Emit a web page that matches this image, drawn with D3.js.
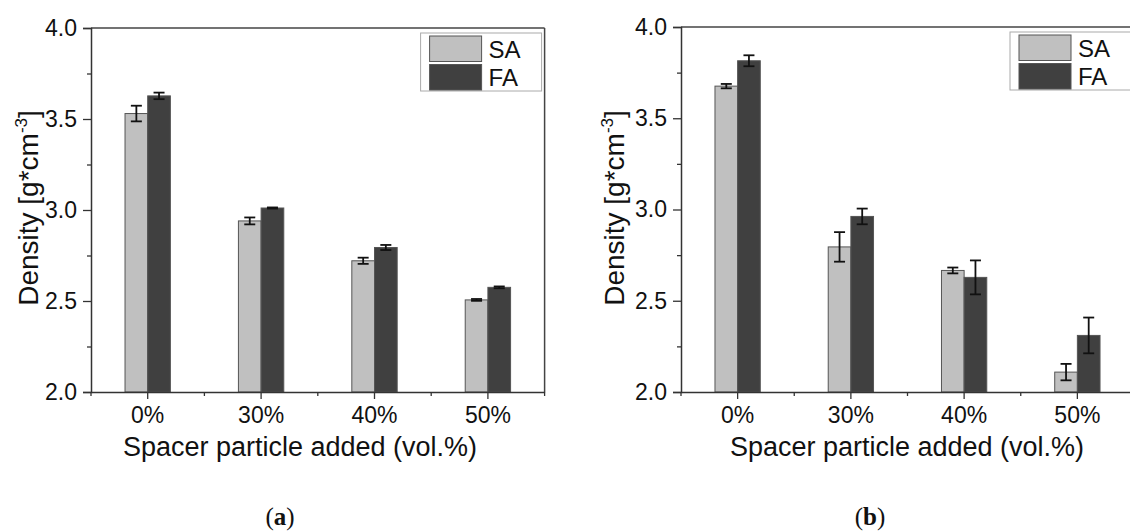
<!DOCTYPE html>
<html>
<head>
<meta charset="utf-8">
<script src="https://cdn.jsdelivr.net/npm/d3@7"></script>
<style>
  body { margin: 0; background: #fff; }
  svg text { font-family: "Liberation Sans", Arial, sans-serif; fill: #111; }
</style>
</head>
<body>
<div id="chart"></div>
<script>
// data
let categories = ["0%", "30%", "40%", "50%"]
let seriesNames = ["SA", "FA"]
let yTicks = [2.0, 2.5, 3.0, 3.5, 4.0]
let yMinor = [2.25, 2.75, 3.25, 3.75]

// panel (a)
let saA = [3.53, 2.94, 2.721, 2.506]
let saErrA = [0.043, 0.019, 0.017, 0.005]
let faA = [3.627, 3.011, 2.794, 2.575]
let faErrA = [0.018, 0.003, 0.014, 0.005]

// panel (b)
let saB = [3.676, 2.795, 2.666, 2.109]
let saErrB = [0.012, 0.081, 0.016, 0.045]
let faB = [3.815, 2.962, 2.628, 2.31]
let faErrB = [0.03, 0.043, 0.093, 0.098]

let colors = ["#c0c0c0", "#404040"]

let svg = d3.select("#chart").append("svg")
    .attr("width", 1130)
    .attr("height", 532);

function drawPanel(p) {
    let g = svg.append("g").attr("transform", "translate(" + p.left + "," + p.top + ")");

    let yS = d3.scaleLinear().domain([2.0, 4.0]).range([p.height, 0]);
    let xS = d3.scaleBand().domain(categories).range([0, p.width]).padding(0);
    let groupW = xS.bandwidth() * 0.4;
    let xInner = d3.scaleBand().domain(seriesNames).range([-groupW / 2, groupW / 2]);

    let rows = [];
    categories.forEach(function (c, i) {
        rows.push({cat: c, s: "SA", v: p.sa[i], e: p.saErr[i], k: 0});
        rows.push({cat: c, s: "FA", v: p.fa[i], e: p.faErr[i], k: 1});
    });

    // bars
    g.selectAll("rect.bar").data(rows).enter().append("rect")
        .attr("class", "bar")
        .attr("x", function (d) { return xS(d.cat) + xS.bandwidth() / 2 + xInner(d.s); })
        .attr("width", xInner.bandwidth())
        .attr("y", function (d) { return yS(d.v); })
        .attr("height", function (d) { return p.height - yS(d.v); })
        .attr("fill", function (d) { return colors[d.k]; })
        .attr("stroke", "#555")
        .attr("stroke-width", 1);

    // error bars
    let eb = g.selectAll("g.err").data(rows).enter().append("g").attr("class", "err")
        .attr("transform", function (d) {
            return "translate(" + (xS(d.cat) + xS.bandwidth() / 2 + xInner(d.s) + xInner.bandwidth() / 2) + ",0)";
        });
    eb.append("line")
        .attr("y1", function (d) { return yS(d.v + d.e); })
        .attr("y2", function (d) { return yS(d.v - d.e); });
    eb.append("line").attr("x1", -5.5).attr("x2", 5.5)
        .attr("y1", function (d) { return yS(d.v + d.e); })
        .attr("y2", function (d) { return yS(d.v + d.e); });
    eb.append("line").attr("x1", -5.5).attr("x2", 5.5)
        .attr("y1", function (d) { return yS(d.v - d.e); })
        .attr("y2", function (d) { return yS(d.v - d.e); });
    eb.selectAll("line").attr("stroke", "#111").attr("stroke-width", 1.8);

    // frame (top and right)
    g.append("line").attr("x1", 0).attr("x2", p.width).attr("y1", 0).attr("y2", 0)
        .attr("stroke", "#444").attr("stroke-width", 1.5);
    g.append("line").attr("x1", p.width).attr("x2", p.width).attr("y1", 0).attr("y2", p.height)
        .attr("stroke", "#444").attr("stroke-width", 1.5);

    // y axis
    let yAx = g.append("g")
        .call(d3.axisLeft(yS).tickValues(yTicks).tickSize(8).tickPadding(6).tickFormat(d3.format(".1f")));
    yAx.selectAll("text").style("font-size", "23px");
    g.append("g")
        .call(d3.axisLeft(yS).tickValues(yMinor).tickSize(4).tickFormat(""))
        .select(".domain").remove();

    // x axis
    let xAx = g.append("g").attr("transform", "translate(0," + p.height + ")")
        .call(d3.axisBottom(xS).tickSize(7).tickPadding(8).tickSizeOuter(0));
    xAx.selectAll("text").style("font-size", "23px");
    let bounds = categories.map(function (c) { return xS(c); }).concat([xS.range()[1]]);
    g.append("g").attr("transform", "translate(0," + p.height + ")")
        .selectAll("line").data(bounds).enter().append("line")
        .attr("x1", function (d) { return d; }).attr("x2", function (d) { return d; })
        .attr("y1", 0).attr("y2", 4)
        .attr("stroke", "#333").attr("stroke-width", 1.3);

    g.selectAll(".domain").attr("stroke", "#333").attr("stroke-width", 1.5);
    g.selectAll(".tick line").attr("stroke", "#333").attr("stroke-width", 1.3);

    // axis titles
    g.append("text")
        .attr("x", p.xTitleX).attr("y", p.height + 64)
        .attr("text-anchor", "middle")
        .style("font-size", "27px")
        .text("Spacer particle added (vol.%)");

    let yt = g.append("text")
        .attr("transform", "translate(" + p.yTitleX + "," + (208 - p.top) + ") rotate(-90)")
        .attr("text-anchor", "middle")
        .style("font-size", "28px");
    yt.append("tspan").text("Density [g*cm");
    yt.append("tspan").attr("dy", -11).style("font-size", "17px").text("-3");
    yt.append("tspan").attr("dy", 11).text("]");

    // legend
    let lg = g.append("g").attr("transform", "translate(" + (p.width - 124) + ",5)");
    lg.append("rect").attr("width", 121).attr("height", 58)
        .attr("fill", "#fff").attr("stroke", "#aaa").attr("stroke-width", 1);
    seriesNames.forEach(function (s, i) {
        lg.append("rect").attr("x", 9).attr("y", 3 + i * 28.5)
            .attr("width", 52).attr("height", 25.5)
            .attr("fill", colors[i]).attr("stroke", "#555").attr("stroke-width", 1);
        lg.append("text").attr("x", 68).attr("y", 24.5 + i * 28.5)
            .style("font-size", "24px").text(s);
    });

    // caption
    let cap = svg.append("text")
        .attr("x", p.capX).attr("y", 525)
        .attr("text-anchor", "middle")
        .style("font-family", "'Liberation Serif', 'DejaVu Serif', serif")
        .style("font-size", "25px");
    cap.append("tspan").text("(");
    cap.append("tspan").style("font-weight", "bold").text(p.label);
    cap.append("tspan").text(")");
}

drawPanel({left: 91, top: 28, width: 453.6, height: 364, sa: saA, saErr: saErrA, fa: faA, faErr: faErrA,
    xTitleX: 300 - 91, yTitleX: 38 - 91, capX: 280, label: "a"});
drawPanel({left: 681, top: 27, width: 453, height: 365, sa: saB, saErr: saErrB, fa: faB, faErr: faErrB,
    xTitleX: 907 - 681, yTitleX: 624 - 681, capX: 870, label: "b"});
</script>
</body>
</html>
